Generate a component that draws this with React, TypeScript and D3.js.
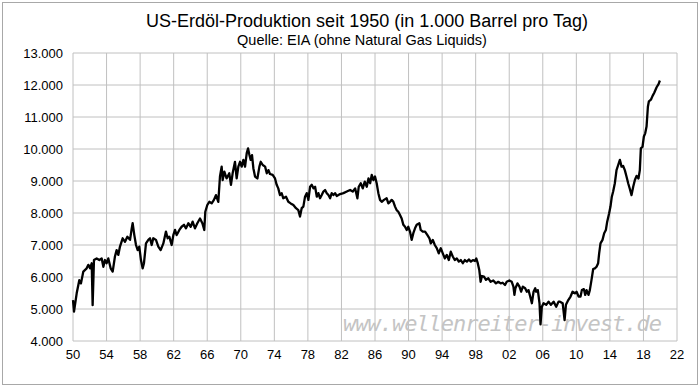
import * as d3 from 'd3'

// monthly-ish readings, decimal year
const dates = [
  1950.0, 1950.12, 1950.44, 1950.75, 1950.95, 1951.23, 1951.63, 1951.83, 1952.03, 1952.23,
  1952.34, 1952.5, 1952.82, 1953.14, 1953.42, 1953.62, 1953.81, 1954.01, 1954.21, 1954.49,
  1954.73, 1955.0, 1955.2, 1955.4, 1955.6, 1955.92, 1956.2, 1956.48, 1956.8, 1957.0,
  1957.11, 1957.31, 1957.51, 1957.71, 1957.9, 1958.1, 1958.3, 1958.46, 1958.7, 1958.98,
  1959.18, 1959.38, 1959.57, 1959.89, 1960.17, 1960.45, 1960.77, 1961.08, 1961.28, 1961.48,
  1961.76, 1961.96, 1962.16, 1962.36, 1962.68, 1962.95, 1963.23, 1963.47, 1963.75, 1964.03,
  1964.26, 1964.54, 1964.82, 1965.14, 1965.42, 1965.65, 1965.77, 1966.01, 1966.25, 1966.53,
  1966.8, 1967.04, 1967.32, 1967.52, 1967.72, 1967.84, 1968.04, 1968.31, 1968.63, 1968.83,
  1969.03, 1969.31, 1969.51, 1969.71, 1969.91, 1970.11, 1970.31, 1970.51, 1970.71, 1970.87,
  1971.03, 1971.18, 1971.34, 1971.5, 1971.7, 1971.98, 1972.22, 1972.38, 1972.62, 1972.9,
  1973.1, 1973.3, 1973.48, 1973.8, 1974.08, 1974.28, 1974.47, 1974.67, 1974.87, 1975.07,
  1975.39, 1975.67, 1975.95, 1976.27, 1976.58, 1976.86, 1977.06, 1977.26, 1977.46, 1977.66,
  1977.86, 1978.06, 1978.26, 1978.46, 1978.66, 1978.86, 1979.06, 1979.25, 1979.45, 1979.65,
  1979.85, 1980.05, 1980.25, 1980.45, 1980.65, 1980.84, 1981.04, 1981.24, 1981.44, 1981.84,
  1982.24, 1982.64, 1983.03, 1983.35, 1983.63, 1983.9, 1984.06, 1984.3, 1984.54, 1984.78,
  1985.02, 1985.22, 1985.42, 1985.61, 1985.81, 1986.0, 1986.2, 1986.4, 1986.6, 1986.8,
  1987.07, 1987.39, 1987.59, 1987.79, 1987.99, 1988.19, 1988.39, 1988.58, 1988.78, 1988.98,
  1989.18, 1989.38, 1989.58, 1989.78, 1989.97, 1990.17, 1990.37, 1990.57, 1990.77, 1990.97,
  1991.29, 1991.45, 1991.69, 1991.97, 1992.25, 1992.49, 1992.65, 1992.89, 1993.13, 1993.36,
  1993.6, 1993.84, 1994.08, 1994.32, 1994.56, 1994.8, 1995.03, 1995.27, 1995.51, 1995.75,
  1995.99, 1996.23, 1996.47, 1996.71, 1996.95, 1997.19, 1997.43, 1997.67, 1997.91, 1998.07,
  1998.23, 1998.43, 1998.59, 1998.75, 1998.99, 1999.23, 1999.51, 1999.79, 2000.1, 2000.42,
  2000.7, 2000.98, 2001.22, 2001.5, 2001.7, 2002.02, 2002.3, 2002.5, 2002.62, 2002.74,
  2002.98, 2003.22, 2003.42, 2003.62, 2003.9, 2004.1, 2004.3, 2004.5, 2004.7, 2004.9,
  2005.1, 2005.21, 2005.41, 2005.61, 2005.73, 2005.89, 2006.09, 2006.41, 2006.69, 2006.97,
  2007.29, 2007.6, 2007.88, 2008.05, 2008.37, 2008.6, 2008.76, 2009.04, 2009.31, 2009.55,
  2009.83, 2010.03, 2010.27, 2010.5, 2010.66, 2010.9, 2011.06, 2011.22, 2011.45, 2011.61,
  2011.81, 2012.01, 2012.21, 2012.41, 2012.6, 2012.72, 2012.88, 2013.12, 2013.32, 2013.52,
  2013.68, 2013.91, 2014.07, 2014.23, 2014.39, 2014.59, 2014.79, 2014.99, 2015.19, 2015.39,
  2015.58, 2015.78, 2015.98, 2016.18, 2016.38, 2016.58, 2016.78, 2016.98, 2017.18, 2017.41,
  2017.57, 2017.69, 2017.89, 2018.05, 2018.21, 2018.37, 2018.53, 2018.65, 2018.89, 2019.09,
  2019.29, 2019.57, 2019.8, 2019.96,
]

// thousand barrels per day
const production = [
  5280, 4920, 5490, 5900, 5800, 6170, 6270, 6380, 6270, 6430,
  5120, 6530, 6580, 6530, 6580, 6320, 6530, 6430, 6580, 6270,
  6170, 6640, 6840, 6690, 6950, 7210, 7100, 7260, 7160, 7520,
  7680, 7310, 7000, 6840, 6950, 6530, 6270, 6430, 7050, 7160,
  7210, 7000, 7210, 7160, 6950, 6840, 7050, 7420, 7210, 7260,
  7000, 7310, 7470, 7310, 7470, 7570, 7630, 7520, 7680, 7570,
  7730, 7520, 7680, 7830, 7680, 7470, 8040, 8250, 8350, 8300,
  8410, 8560, 8350, 9140, 9450, 9030, 9290, 9080, 9240, 8880,
  9240, 9600, 9080, 9450, 9600, 9450, 9660, 9450, 9870, 10020,
  9810, 9660, 9810, 9400, 9140, 9080, 9450, 9600, 9500, 9450,
  9240, 9340, 9220, 9190, 9080, 8880, 8770, 8560, 8620, 8460,
  8510, 8350, 8300, 8250, 8150, 8090, 7890, 8150, 8200, 8510,
  8620, 8410, 8820, 8880, 8770, 8820, 8510, 8620, 8460, 8560,
  8670, 8720, 8620, 8560, 8460, 8620, 8560, 8620, 8530, 8590,
  8620, 8670, 8720, 8670, 8770, 8460, 8820, 8930, 8770, 8980,
  8820, 9080, 8930, 9190, 9030, 9140, 8930, 8620, 8410, 8350,
  8410, 8460, 8300, 8350, 8410, 8350, 8200, 8090, 8040, 7940,
  7830, 7630, 7570, 7470, 7570, 7420, 7160, 7370, 7520, 7630,
  7680, 7470, 7420, 7420, 7310, 7210, 7050, 7160, 7000, 6900,
  6740, 6900, 6740, 6580, 6690, 6530, 6790, 6640, 6530, 6580,
  6480, 6530, 6430, 6530, 6480, 6550, 6480, 6530, 6500, 6580,
  6450, 6220, 5850, 6030, 6010, 5910, 5960, 5850, 5890, 5800,
  5850, 5800, 5820, 5750, 5850, 5890, 5850, 5700, 5440, 5650,
  5800, 5700, 5540, 5700, 5650, 5540, 5590, 5390, 5180, 5540,
  5650, 5540, 5590, 5180, 4520, 5070, 5180, 5130, 5230, 5130,
  5230, 5070, 5230, 5230, 5180, 4650, 5130, 5280, 5390, 5540,
  5490, 5540, 5390, 5390, 5590, 5620, 5440, 5590, 5440, 5590,
  5910, 6250, 6270, 6320, 6430, 6740, 7050, 7160, 7370, 7470,
  7730, 7990, 8200, 8510, 8670, 8930, 9340, 9500, 9660, 9450,
  9470, 9340, 9140, 8930, 8750, 8560, 8820, 9030, 9160, 9080,
  9340, 10020, 10070, 10390, 10490, 10700, 11320, 11490, 11540, 11660,
  11760, 11930, 12030, 12140,
]

const yTicks = [4000, 5000, 6000, 7000, 8000, 9000, 10000, 11000, 12000, 13000]
const xTicks = [1950, 1954, 1958, 1962, 1966, 1970, 1974, 1978, 1982, 1986, 1990, 1994, 1998, 2002, 2006, 2010, 2014, 2018, 2022]

const W = 700
const H = 387
const margin = { top: 53, right: 23, bottom: 46, left: 73 }

const de = d3.formatLocale({ decimal: ',', thousands: '.', grouping: [3], currency: ['', ' €'] })
const fmt = de.format(',d')
const FONT = "'Liberation Sans', Arial, sans-serif"

export default function App() {
  const x = d3.scaleLinear().domain([1950, 2022]).range([margin.left, W - margin.right])
  const y = d3.scaleLinear().domain([4000, 13000]).range([H - margin.bottom, margin.top])

  const points = dates.map((d, i) => [d, production[i]] as [number, number])
  const line = d3
    .line<[number, number]>()
    .x((d) => x(d[0]))
    .y((d) => y(d[1]))

  const grid = '#c0c0c0'

  return (
    <div style={{ position: 'fixed', left: 0, top: 0 }}>
      <svg width={W} height={H} style={{ display: 'block', background: '#fff' }}>
        <rect x={2.5} y={2.5} width={W - 5} height={H - 5} fill="#fff" stroke="#a8a8a8" />

        <text x={367} y={27} textAnchor="middle" fontFamily={FONT} fontSize={18} fill="#000">
          US-Erdöl-Produktion seit 1950 (in 1.000 Barrel pro Tag)
        </text>
        <text x={362} y={45} textAnchor="middle" fontFamily={FONT} fontSize={14.5} fill="#000">
          Quelle: EIA (ohne Natural Gas Liquids)
        </text>

        {yTicks.map((t) => (
          <g key={t}>
            <line x1={x(1950)} x2={x(2022)} y1={y(t)} y2={y(t)} stroke={grid} />
            <text
              x={63}
              y={y(t)}
              dy="0.35em"
              textAnchor="end"
              fontFamily={FONT}
              fontSize={13}
              fill="#000"
            >
              {fmt(t)}
            </text>
          </g>
        ))}

        {xTicks.map((t) => (
          <g key={t}>
            <line x1={x(t)} x2={x(t)} y1={y(13000)} y2={y(4000)} stroke={grid} />
            <text
              x={x(t)}
              y={y(4000) + 18}
              textAnchor="middle"
              fontFamily={FONT}
              fontSize={13}
              fill="#000"
            >
              {String(t % 100).padStart(2, '0')}
            </text>
          </g>
        ))}

        {/* watermark */}
        <text
          x={343}
          y={331}
          textLength={319}
          lengthAdjust="spacing"
          fontFamily="'DejaVu Sans Mono', monospace"
          fontStyle="italic"
          fontSize={22}
          fill="#c4c4c4"
        >
          www.wellenreiter-invest.de
        </text>

        <path
          d={line(points) ?? ''}
          fill="none"
          stroke="#000"
          strokeWidth={2.3}
          strokeLinejoin="round"
        />
      </svg>
    </div>
  )
}
